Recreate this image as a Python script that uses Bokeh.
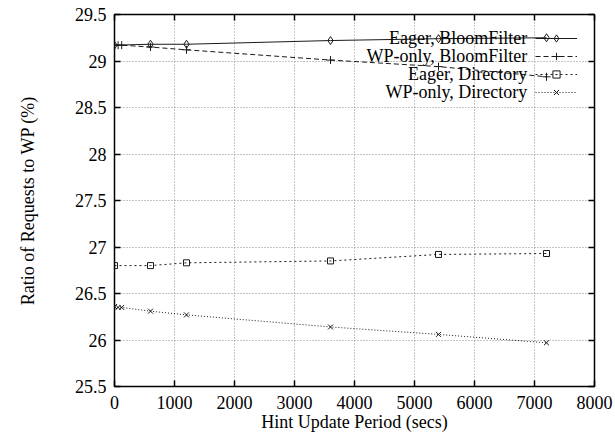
from bokeh.plotting import figure
from bokeh.models import (LinearAxis, Range1d, FixedTicker, Legend, LegendItem,
                          Label, CustomJSTickFormatter)
from bokeh.embed import file_html
from bokeh.resources import INLINE

# Hint update periods (seconds)
period_eager = [0, 600, 1200, 3600, 5400, 7200]
period_wp = [0, 60, 120, 600, 1200, 3600, 5400, 7200]

# Ratio of requests sent to the WP (%)
eager_bloom = [29.17, 29.18, 29.18, 29.22, 29.24, 29.25]
wp_bloom = [29.17, 29.17, 29.17, 29.15, 29.12, 29.01, 28.94, 28.83]
eager_dir = [26.80, 26.80, 26.83, 26.85, 26.92, 26.93]
wp_dir = [26.36, 26.35, 26.35, 26.31, 26.27, 26.14, 26.06, 25.97]

series_names = ["Eager, BloomFilter", "WP-only, BloomFilter",
                "Eager, Directory", "WP-only, Directory"]

x_ticks = [0, 1000, 2000, 3000, 4000, 5000, 6000, 7000, 8000]
y_ticks = [25.5, 26, 26.5, 27, 27.5, 28, 28.5, 29, 29.5]

FONT = "Liberation Serif"
INK = "#1a1a1a"

p = figure(frame_width=480, frame_height=372, output_backend="svg",
           toolbar_location=None,
           x_range=Range1d(0, 8000), y_range=Range1d(25.5, 29.5),
           min_border_left=114, min_border_right=21, min_border_top=14,
           min_border_bottom=53, background_fill_color="white",
           border_fill_color="white", x_axis_label="Hint Update Period (secs)",
           y_axis_label="Ratio of Requests to WP (%)")

p.outline_line_color = "black"
p.outline_line_width = 1.5

for ax, ticks in ((p.xaxis[0], x_ticks), (p.yaxis[0], y_ticks)):
    ax.ticker = FixedTicker(ticks=ticks)
    ax.major_tick_in = 6
    ax.major_tick_out = 0
    ax.minor_tick_in = 0
    ax.minor_tick_out = 0
    ax.axis_line_color = None
    ax.major_tick_line_color = "black"
    ax.major_tick_line_width = 1.5
    ax.major_label_text_font = FONT
    ax.major_label_text_font_size = "18px"
    ax.major_label_text_color = "black"
    ax.axis_label_text_font = FONT
    ax.axis_label_text_font_size = "18px"
    ax.axis_label_text_font_style = "normal"
    ax.axis_label_text_color = "black"

p.xaxis[0].major_label_standoff = 9
p.xaxis[0].axis_label_standoff = 0
p.yaxis[0].major_label_standoff = 8
p.yaxis[0].axis_label_standoff = 34

# mirrored tick marks on the top and right edges
blank = CustomJSTickFormatter(code="return ''")
for loc, ticks in (("above", x_ticks), ("right", y_ticks)):
    ax = LinearAxis(ticker=FixedTicker(ticks=ticks), formatter=blank,
                    major_tick_in=6, major_tick_out=0, minor_tick_in=0,
                    minor_tick_out=0, axis_line_color=None,
                    major_tick_line_color="black", major_tick_line_width=1.5,
                    major_label_standoff=0)
    p.add_layout(ax, loc)

p.xgrid.ticker = FixedTicker(ticks=x_ticks)
p.ygrid.ticker = FixedTicker(ticks=y_ticks)
for g in (p.xgrid[0], p.ygrid[0]):
    g.grid_line_color = "#8a8a8a"
    g.grid_line_dash = "1 2"
    g.grid_line_width = 1

styles = [
    (period_eager, eager_bloom, "solid", "diamond", 8),
    (period_wp, wp_bloom, "5 3", "cross", 8),
    (period_eager, eager_dir, "2 3", "square", 6),
    (period_wp, wp_dir, "1 2", "x", 7),
]

items = []
for (xs, ys, dash, marker, size) in styles:
    ln = p.line(xs, ys, line_color=INK, line_width=1, line_dash=dash)
    sc = p.scatter(xs, ys, marker=marker, size=size, line_color=INK,
                   fill_color=None, line_width=1)
    items.append(LegendItem(label=" ", renderers=[ln, sc]))

# key: samples on the right, right-aligned names to their left
legend = Legend(items=items, location=(421, 285), glyph_width=42,
                glyph_height=18, label_width=0, label_height=18,
                label_standoff=0, spacing=0, padding=0, margin=0,
                background_fill_alpha=0, border_line_alpha=0,
                label_text_font_size="1px")
p.add_layout(legend)

key_text_x = 6880
key_text_y = [29.245, 29.052, 28.858, 28.665]
for name, ky in zip(series_names, key_text_y):
    p.add_layout(Label(x=key_text_x, y=ky, text=name, text_align="right",
                       text_baseline="middle", text_font=FONT,
                       text_font_size="18px", text_color="black"))

open("out.html", "w").write(file_html(p, INLINE))
